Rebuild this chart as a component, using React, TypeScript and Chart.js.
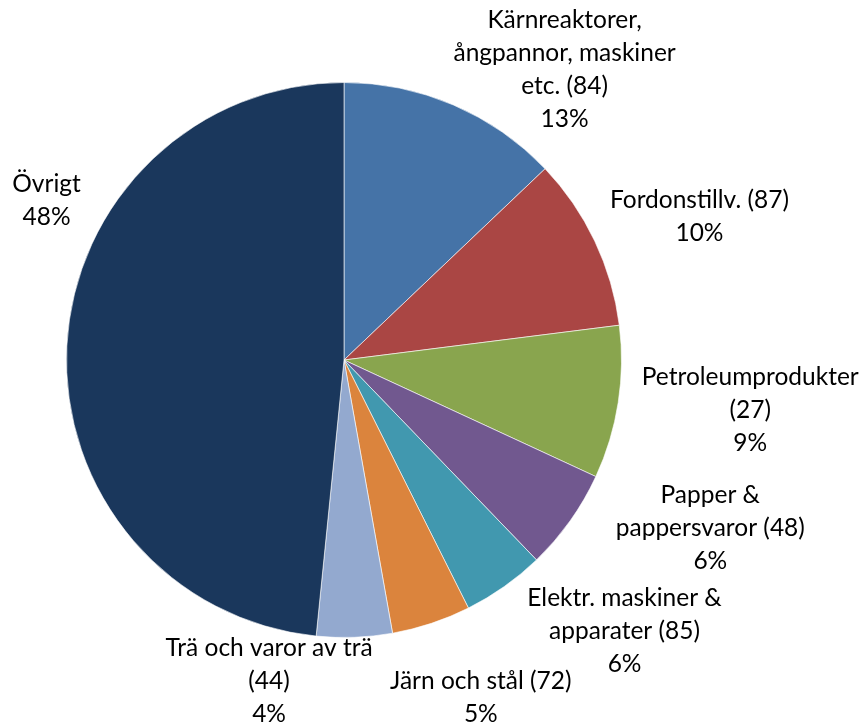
import React, { useEffect, useRef } from "react";
import { Chart, registerables } from "chart.js";

Chart.register(...registerables);

const categories = [
  "Kärnreaktorer, ångpannor, maskiner etc. (84)",
  "Fordonstillv. (87)",
  "Petroleumprodukter (27)",
  "Papper & pappersvaror (48)",
  "Elektr. maskiner & apparater (85)",
  "Järn och stål (72)",
  "Trä och varor av trä (44)",
  "Övrigt",
];

const shares = [12.9, 10.1, 8.9, 5.9, 4.8, 4.6, 4.4, 48.4];

const percentLabels = ["13%", "10%", "9%", "6%", "6%", "5%", "4%", "48%"];

const labelLines = [
  ["Kärnreaktorer,", "ångpannor, maskiner", "etc. (84)"],
  ["Fordonstillv. (87)"],
  ["Petroleumprodukter", "(27)"],
  ["Papper &", "pappersvaror (48)"],
  ["Elektr. maskiner &", "apparater (85)"],
  ["Järn och stål (72)"],
  ["Trä och varor av trä", "(44)"],
  ["Övrigt"],
];

const colors = [
  "#4573A7",
  "#AA4644",
  "#89A54E",
  "#71588F",
  "#4198AF",
  "#DB843D",
  "#93A9CF",
  "#1A375C",
];

// label block centers relative to pie center, in units of outer radius
const labelOffsets = [
  [0.795, -1.047],
  [1.281, -0.518],
  [1.464, 0.18],
  [1.32, 0.604],
  [1.011, 0.978],
  [0.493, 1.216],
  [-0.27, 1.158],
  [-1.072, -0.576],
];

const FONT_SIZE = 24.5;
const LINE_H = 33;

const labelPlugin = {
  id: "outsideLabels",
  afterDraw(chart: any) {
    const meta = chart.getDatasetMeta(0);
    const arc = meta.data[0];
    if (!arc) return;
    const cx = arc.x;
    const cy = arc.y;
    const r = arc.outerRadius;
    const ctx = chart.ctx;
    ctx.save();
    ctx.fillStyle = "#000000";
    ctx.font = `${FONT_SIZE}px Lato, "Open Sans", sans-serif`;
    ctx.textAlign = "center";
    ctx.textBaseline = "middle";
    labelLines.forEach((lines, i) => {
      const all = [...lines, percentLabels[i]];
      const x = cx + labelOffsets[i][0] * r;
      const y = cy + labelOffsets[i][1] * r;
      const top = y - ((all.length - 1) * LINE_H) / 2;
      all.forEach((t, j) => ctx.fillText(t, x, top + j * LINE_H));
    });
    ctx.restore();
  },
};

export default function App() {
  const ref = useRef<HTMLCanvasElement>(null);
  useEffect(() => {
    document.body.style.margin = "0";
    const chart = new Chart(ref.current!, {
      type: "pie",
      data: {
        labels: categories,
        datasets: [
          {
            data: shares,
            backgroundColor: colors,
            borderColor: "rgba(255,255,255,0.6)",
            borderWidth: 1,
          },
        ],
      },
      options: {
        responsive: false,
        animation: false,
        layout: { padding: { left: 66, right: 242, top: 82, bottom: 86 } },
        plugins: {
          legend: { display: false },
          tooltip: { enabled: false },
        },
      },
      plugins: [labelPlugin],
    });
    return () => chart.destroy();
  }, []);
  return (
    <div style={{ width: 864, height: 724, background: "#fff" }}>
      <canvas ref={ref} width={864} height={724} style={{ display: "block" }} />
    </div>
  );
}
